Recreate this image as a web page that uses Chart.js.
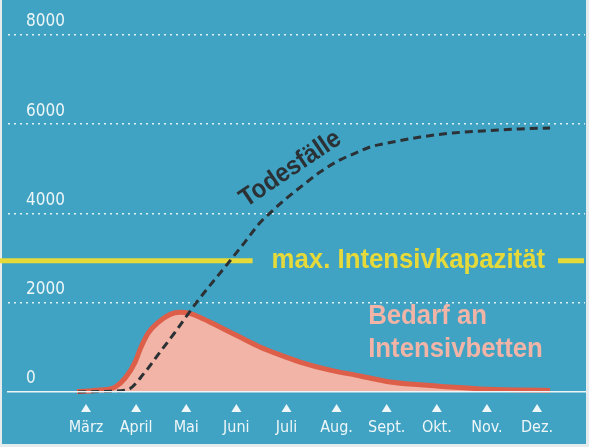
<!DOCTYPE html>
<html>
<head>
<meta charset="utf-8">
<script src="https://cdn.jsdelivr.net/npm/chart.js@4.4.1/dist/chart.umd.min.js"></script>
<style>
  html, body { margin: 0; padding: 0; background: #e6ecee; }
  #chart { display: block; }
</style>
</head>
<body>
<canvas id="chart" width="589" height="447"></canvas>
<script>
// x axis: month index, 0 = März
const months = ["März", "April", "Mai", "Juni", "Juli", "Aug.", "Sept.", "Okt.", "Nov.", "Dez."];
const yTicks = [0, 2000, 4000, 6000, 8000];

// Bedarf an Intensivbetten
const bedarfX = [-0.18, 0.28, 0.58, 0.78, 0.98, 1.08, 1.24, 1.44, 1.68, 1.88, 2.08, 2.28, 2.67, 3.07, 3.47, 3.87, 4.27, 4.87, 5.47, 6.07, 6.67, 7.26, 7.86, 8.66, 9.26];
const bedarfY = [10, 45, 110, 310, 670, 960, 1320, 1560, 1740, 1785, 1755, 1670, 1455, 1230, 1010, 830, 670, 490, 360, 225, 160, 110, 70, 45, 35];

// Todesfälle (kumuliert)
const todX = [-0.16, 0.28, 0.82, 1.18, 1.48, 1.78, 2.2, 2.87, 3.17, 3.47, 3.67, 4.01, 4.41, 4.67, 5.07, 5.41, 5.67, 6.07, 6.67, 7.32, 8.06, 8.66, 9.26];
const todY = [0, 10, 50, 450, 900, 1345, 2000, 2935, 3360, 3790, 4010, 4350, 4706, 4930, 5200, 5370, 5490, 5590, 5714, 5804, 5860, 5894, 5916];

const maxKapazitaet = 2940;

const FAMILY = "'DejaVu Sans Condensed', 'Liberation Sans', sans-serif";
const NOTE_FONT = "'Liberation Sans', Arial, sans-serif";
const BLUE = "#40a3c3";
const WHITE = "#eef6f8";
const YELLOW = "#e6da3a";
const PINK = "#f1b4a6";
const RED = "#dd5f4a";
const DARK = "#2b3135";

const toPoints = (xs, ys) => xs.map((v, i) => ({ x: v, y: ys[i] }));

// condensed bold text: Liberation Sans squeezed a little
const narrowText = (ctx, text, px, py, size, align) => {
	ctx.save();
	ctx.font = "bold " + size + "px " + NOTE_FONT;
	ctx.translate(px, py);
	ctx.scale(0.92, 1);
	ctx.textAlign = align;
	ctx.fillText(text, 0, 0);
	ctx.restore();
};

const paper = {
	id: "paper",
	beforeDraw(chart) {
		const c = chart.ctx;
		c.save();
		c.fillStyle = "#e6ecee";
		c.fillRect(0, 0, chart.width, chart.height);
		c.fillStyle = BLUE;
		c.fillRect(2, 0, chart.width - 5, chart.height - 3);
		c.restore();
	},
	beforeDatasetsDraw(chart) {
		// yellow capacity line, broken where its label sits
		const { ctx, chartArea, scales: { x, y } } = chart;
		const yCap = y.getPixelForValue(maxKapazitaet);
		ctx.save();
		ctx.font = "bold 28px " + NOTE_FONT;
		const right = x.getPixelForValue(9.16);
		const w = ctx.measureText("max. Intensivkapazität").width * 0.92;
		ctx.strokeStyle = YELLOW;
		ctx.lineWidth = 5;
		ctx.beginPath();
		ctx.moveTo(0, yCap);
		ctx.lineTo(right - w - 19, yCap);
		ctx.moveTo(right + 13, yCap);
		ctx.lineTo(chartArea.right - 1, yCap);
		ctx.stroke();
		ctx.restore();
	},
	afterDatasetsDraw(chart) {
		const { ctx, chartArea, scales: { x, y } } = chart;
		ctx.save();
		// little triangles over the month names
		ctx.fillStyle = WHITE;
		months.forEach((m, i) => {
			const px = x.getPixelForValue(i);
			ctx.beginPath();
			ctx.moveTo(px, chartArea.bottom + 12);
			ctx.lineTo(px + 5, chartArea.bottom + 20);
			ctx.lineTo(px - 5, chartArea.bottom + 20);
			ctx.closePath();
			ctx.fill();
		});

		ctx.textBaseline = "alphabetic";
		ctx.fillStyle = YELLOW;
		narrowText(ctx, "max. Intensivkapazität", x.getPixelForValue(9.16), y.getPixelForValue(maxKapazitaet) + 7, 28, "right");

		ctx.fillStyle = PINK;
		narrowText(ctx, "Bedarf an", x.getPixelForValue(5.63), y.getPixelForValue(1524), 28, "left");
		narrowText(ctx, "Intensivbetten", x.getPixelForValue(5.63), y.getPixelForValue(784), 28, "left");

		ctx.translate(x.getPixelForValue(4.08), y.getPixelForValue(5000));
		ctx.rotate(-34 * Math.PI / 180);
		ctx.textBaseline = "middle";
		ctx.fillStyle = DARK;
		narrowText(ctx, "Todesfälle", 0, 0, 26, "center");
		ctx.restore();
	},
};

const chart = new Chart(document.getElementById("chart"), {
	type: "line",
	data: {
		datasets: [
			{
				data: toPoints(bedarfX, bedarfY),
				borderColor: RED,
				backgroundColor: PINK,
				borderWidth: 5,
				fill: "origin",
				pointRadius: 0,
				cubicInterpolationMode: "monotone",
				clip: 10,
				order: 1,
			},
			{
				data: toPoints(todX, todY),
				borderColor: DARK,
				borderWidth: 3,
				borderDash: [8, 5],
				fill: false,
				pointRadius: 0,
				cubicInterpolationMode: "monotone",
				clip: 10,
				order: 0,
			},
		],
	},
	options: {
		responsive: false,
		animation: false,
		devicePixelRatio: 1,
		layout: { padding: { left: 8, right: 4, top: 0, bottom: 0 } },
		plugins: { legend: { display: false }, tooltip: { enabled: false } },
		scales: {
			x: {
				type: "linear",
				min: -1.557,
				max: 9.957,
				afterBuildTicks: (axis) => {
					axis.ticks = months.map((m, i) => ({ value: i }));
				},
				afterFit: (axis) => {
					axis.height = 55;
					axis.paddingLeft = 0;
					axis.paddingRight = 0;
				},
				grid: { display: false, drawTicks: false },
				border: { display: true, color: WHITE, width: 1.5, z: 1 },
				ticks: {
					autoSkip: false,
					maxRotation: 0,
					padding: 26,
					color: WHITE,
					font: { family: FAMILY, size: 16 },
					callback: (v) => months[v],
				},
			},
			y: {
				min: 0,
				max: 8784,
				afterBuildTicks: (axis) => {
					axis.ticks = yTicks.map((v) => ({ value: v }));
				},
				afterFit: (axis) => {
					axis.width = 0;
					axis.paddingTop = 0;
					axis.paddingBottom = 0;
				},
				grid: {
					drawTicks: false,
					lineWidth: 1.5,
					color: (c) => (c.tick && c.tick.value === 0 ? "rgba(0,0,0,0)" : "rgba(255,255,255,0.85)"),
				},
				border: { display: false, dash: [2, 4] },
				ticks: {
					mirror: true,
					padding: 18,
					labelOffset: -13,
					color: WHITE,
					font: { family: FAMILY, size: 17 },
					callback: (v) => String(v),
				},
			},
		},
	},
	plugins: [paper],
});
</script>
</body>
</html>
